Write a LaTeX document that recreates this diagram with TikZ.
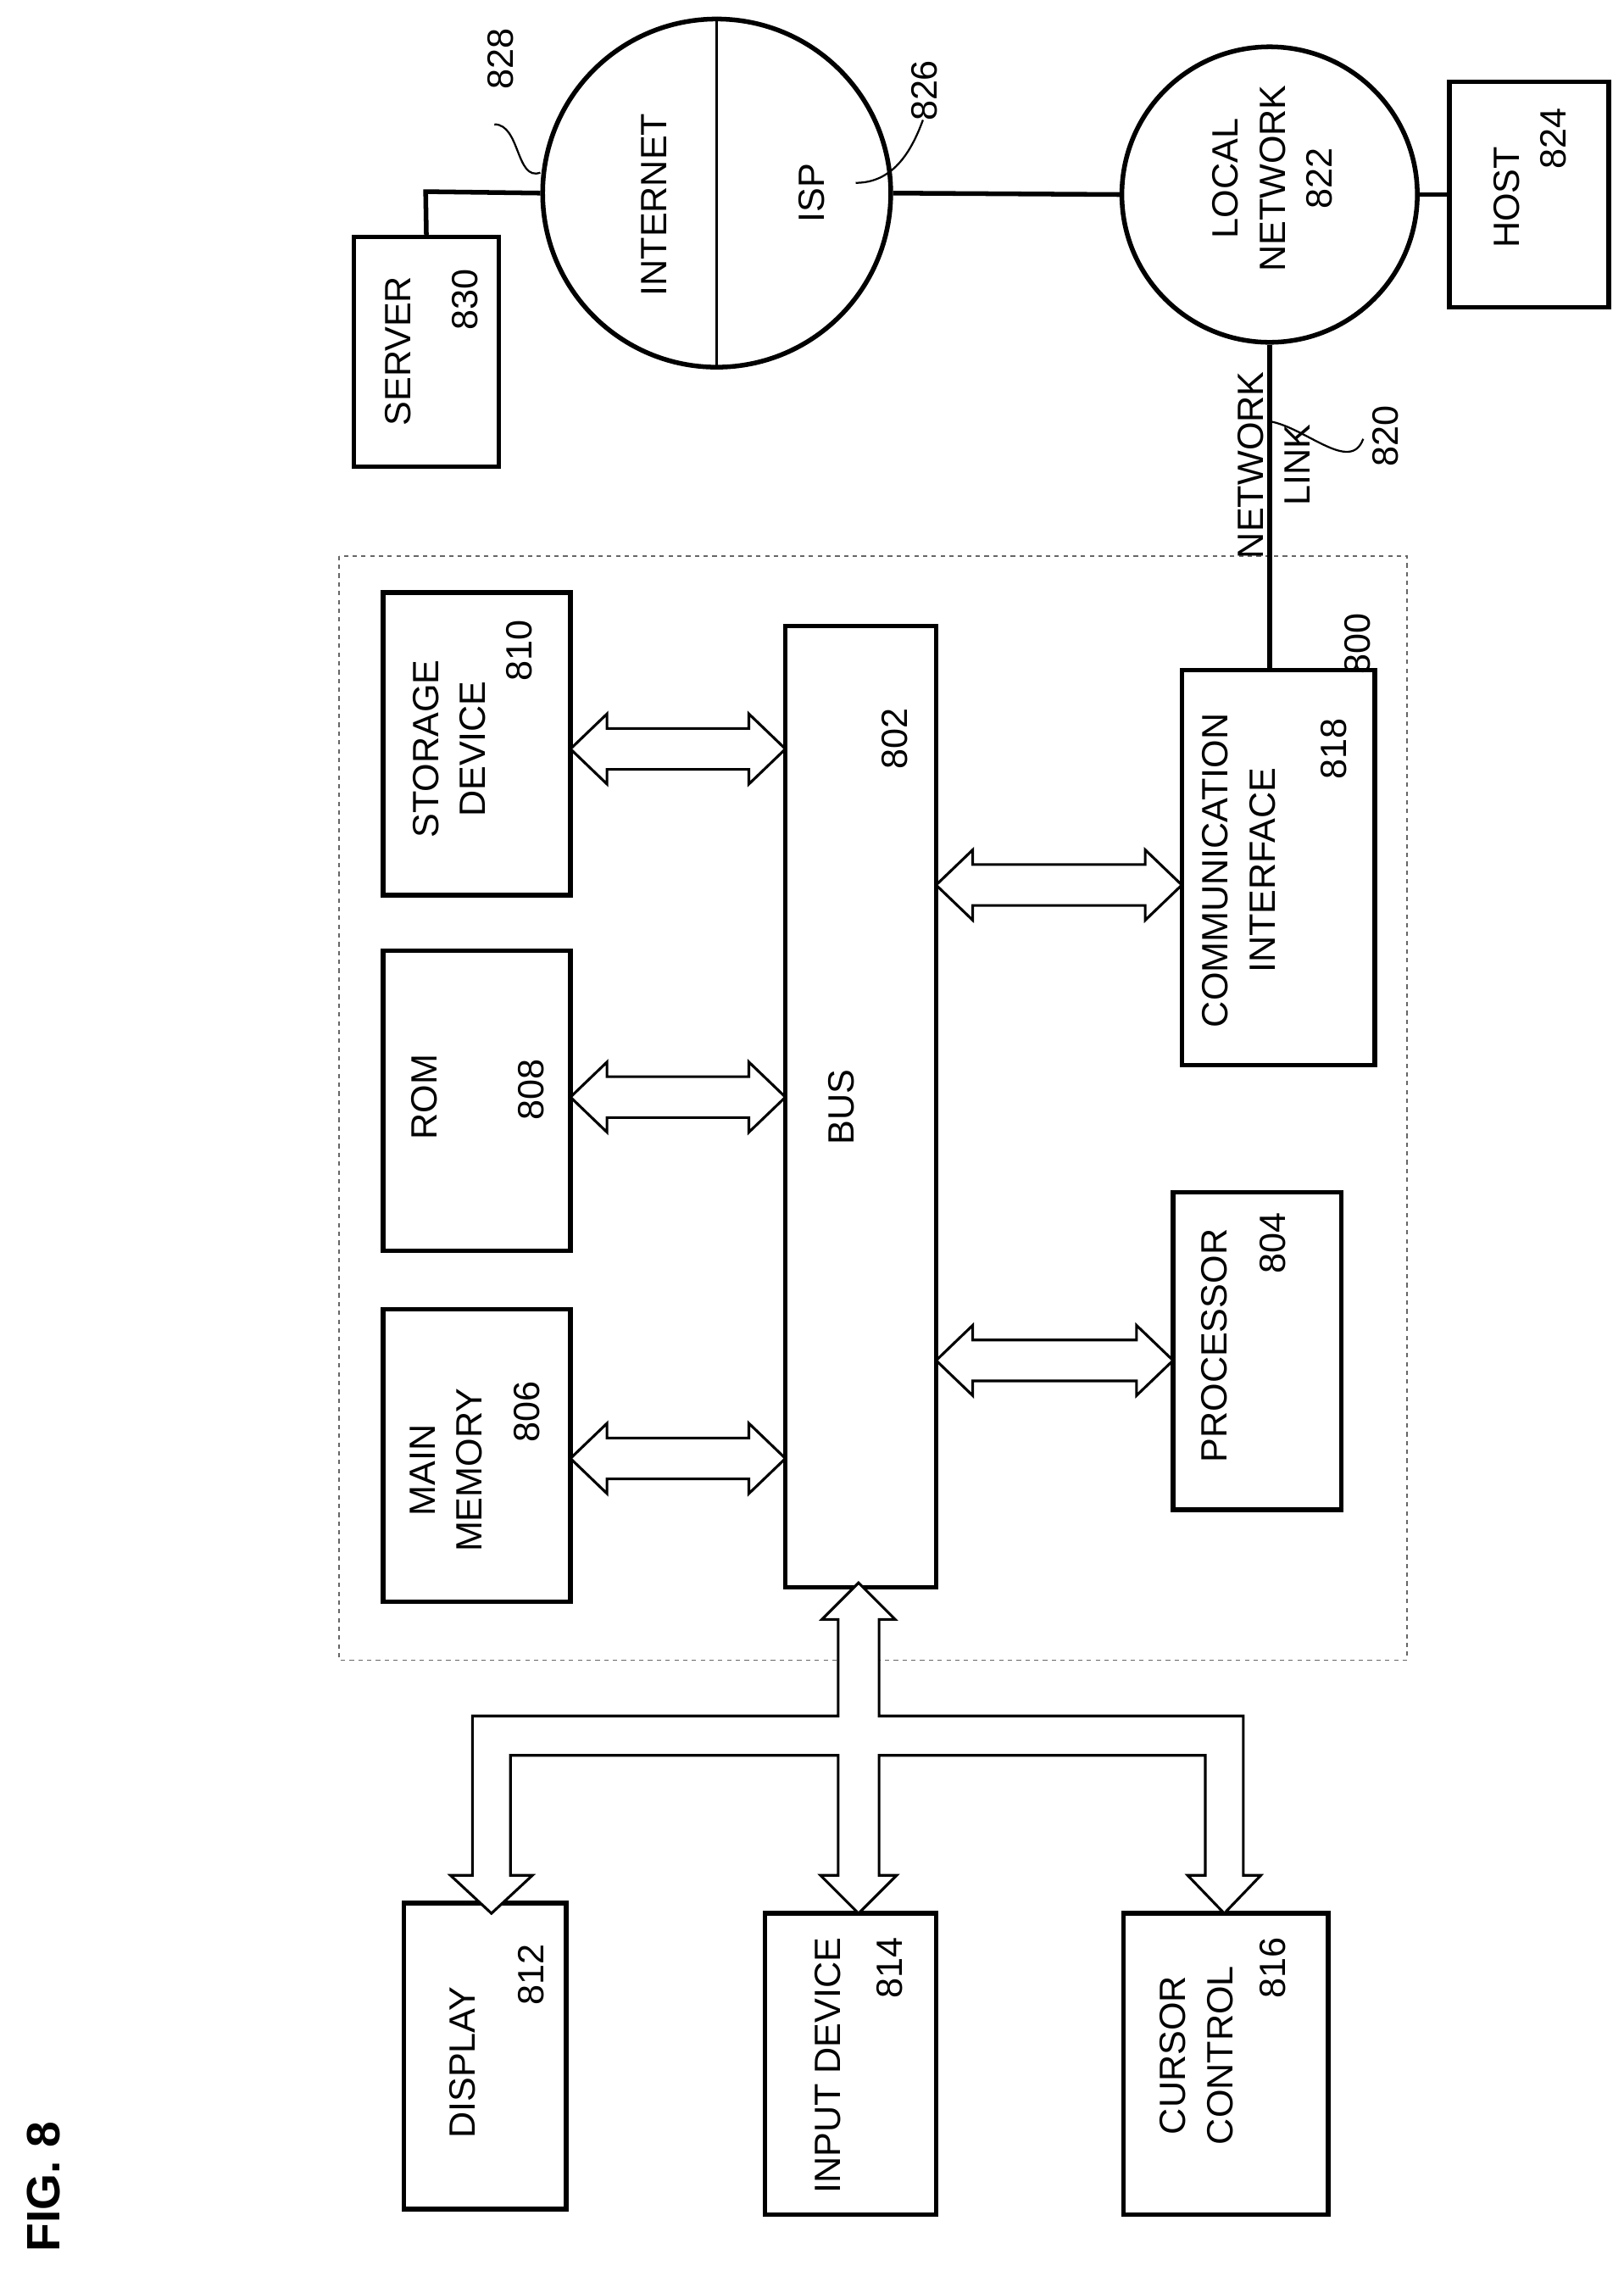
\documentclass[tikz,border=0pt]{standalone}
\usepackage{fontspec}
\setmainfont{Liberation Sans}
\begin{document}
\begin{tikzpicture}[x=1pt,y=-1pt,
  box/.style={draw, line width=3.2pt, inner sep=0pt},
  txt/.style={rotate=90, align=center, font=\fontsize{25}{32}\selectfont},
  blk/.style={draw, line width=1.8pt, fill=white}]
\useasboundingbox (0,0) rectangle (1110,1560);
\newcommand\hdbl[3]{% double block arrow from x #1 to x #2 at y #3
  \draw[blk] (#1,#3) -- (#1+25,#3-24) -- (#1+25,#3-14) -- (#2-25,#3-14)
    -- (#2-25,#3-24) -- (#2,#3) -- (#2-25,#3+24) -- (#2-25,#3+14)
    -- (#1+25,#3+14) -- (#1+25,#3+24) -- cycle;}
%
\draw[dashed, gray!80!black, line width=1pt] (232,380) rectangle (962,1135);
\node[txt] (lbl800) at (928,440) {800};
%
\node[box, minimum width=128pt, minimum height=207pt] (storage) at (326,508.5) {};
\node[txt] at (307,512) {STORAGE\\DEVICE};
\node[txt] at (355,445) {810};
\node[box, minimum width=128pt, minimum height=205pt] (rom) at (326,752.5) {};
\node[txt] at (290,750) {ROM};
\node[txt] at (363,745) {808};
\node[box, minimum width=128pt, minimum height=200pt] (mainmem) at (326,995) {};
\node[txt] at (305,1005) {MAIN\\MEMORY};
\node[txt] at (360,965) {806};
\node[box, minimum width=103pt, minimum height=657pt] (bus) at (588.5,756.5) {};
\node[txt] at (575,757) {BUS};
\node[txt] at (612,505) {802};
\node[box, minimum width=132pt, minimum height=270pt] (comm) at (874,593) {};
\node[txt] at (847,595) {COMMUNICATION\\INTERFACE};
\node[txt] at (912,512) {818};
\node[box, minimum width=115pt, minimum height=217pt] (proc) at (859.5,923.5) {};
\node[txt] at (830,920) {PROCESSOR};
\node[txt] at (870,850) {804};
%
\hdbl{390}{537}{512}
\hdbl{390}{537}{750}
\hdbl{390}{537}{997}
\hdbl{640}{808}{605}
\hdbl{640}{802}{930}
%
\node[box, minimum width=111pt, minimum height=209pt] (display) at (331.5,1405.5) {};
\node[txt] at (316,1410) {DISPLAY};
\node[txt] at (363,1350) {812};
\node[box, minimum width=117pt, minimum height=206pt] (input) at (581.5,1411) {};
\node[txt] at (566,1412) {INPUT DEVICE};
\node[txt] at (608,1345) {814};
\node[box, minimum width=140pt, minimum height=206pt] (cursor) at (838,1411) {};
\node[txt] at (818,1405) {CURSOR\\CONTROL};
\node[txt] at (870,1345) {816};
% bus tree
\draw[blk] (587,1082) -- (612,1107) -- (601,1107) -- (601,1173) -- (850,1173)
  -- (850,1282) -- (862,1282) -- (837,1308) -- (812,1282) -- (824,1282)
  -- (824,1200) -- (601,1200) -- (601,1282) -- (613,1282) -- (587,1308)
  -- (561,1282) -- (573,1282) -- (573,1200) -- (349,1200) -- (349,1282)
  -- (364,1282) -- (336,1308) -- (308,1282) -- (323,1282) -- (323,1173)
  -- (573,1173) -- (573,1107) -- (562,1107) -- cycle;
%
\node[draw, circle, line width=3.2pt, minimum size=238pt] (internet) at (490,132) {};
\draw[line width=1.3pt] (internet.north) -- (internet.south);
\node[txt] at (447,140) {INTERNET};
\node[txt] at (555,132) {ISP};
\node[txt] (lbl828) at (342,40) {828};
\node[txt] (lbl826) at (632,62) {826};
\draw[line width=1.3pt] (338,85) to[out=0,in=200] (internet.west |- 0,118);
\draw[line width=1.3pt] (585,125) to[out=0,in=250] (631,82);
\node[draw, circle, line width=3.2pt, minimum size=202pt] (localnet) at (868,133) {};
\node[txt] at (870,122) {LOCAL\\NETWORK\\822};
\node[box, minimum width=109pt, minimum height=154pt] (host) at (1045.5,133) {};
\node[txt] at (1030,135) {HOST};
\node[txt] at (1062,95) {824};
\node[box, minimum width=99pt, minimum height=157pt] (server) at (291.5,240.5) {};
\node[txt] at (272,240) {SERVER};
\node[txt] at (318,205) {830};
%
\draw[line width=3.2pt] (server.north) -- (291,131) -- (internet.west);
\draw[line width=3.2pt] (internet.east) -- (localnet.west);
\draw[line width=3.2pt] (localnet.east) -- (host.west);
\draw[line width=3.2pt] (localnet.south) -- (comm.north -| localnet.south);
\node[txt] at (871,318) {NETWORK\\LINK};
\node[txt] (lbl820) at (947,298) {820};
\draw[line width=1.3pt] (868,288) to[out=-10,in=250] (932,300);
%
\node[txt, font=\fontsize{32}{36}\selectfont\bfseries] (fig) at (30,1495) {FIG. 8};
\end{tikzpicture}
\end{document}
